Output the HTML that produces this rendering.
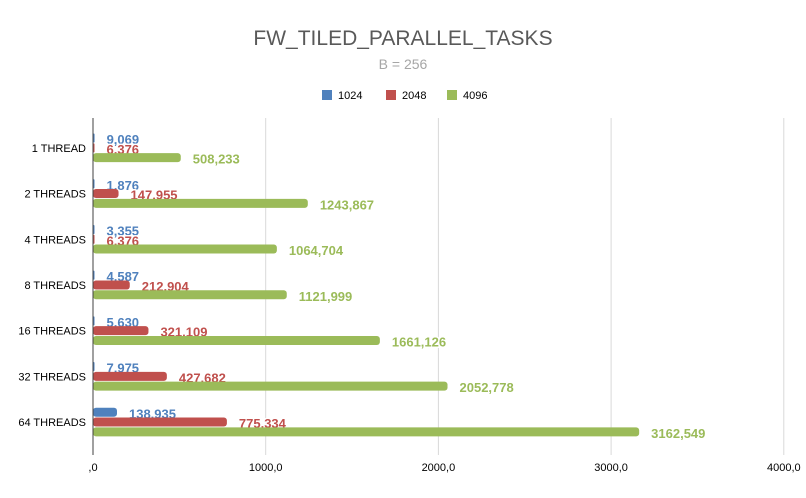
<!DOCTYPE html>
<html><head><meta charset="utf-8"><style>
body{margin:0;background:#fff;font-family:"Liberation Sans",sans-serif}
svg{display:block}
.lbl{font-weight:bold;font-size:13px;paint-order:stroke;stroke:#fff;stroke-width:3px;stroke-linejoin:round}
</style></head><body>
<svg id="c" width="806" height="498">
<text x="403" y="45" text-anchor="middle" font-size="21" fill="#595959">FW_TILED_PARALLEL_TASKS</text>
<text x="403" y="69" text-anchor="middle" font-size="14" fill="#a6a6a6">B = 256</text>
<g id="legend"></g>
<g id="grid"></g>
<g id="bars"></g>
<g id="yax"></g>
</svg>
<script>
const categories=["1 THREAD","2 THREADS","4 THREADS","8 THREADS","16 THREADS","32 THREADS","64 THREADS"];
const seriesNames=["1024","2048","4096"];
const s1024=[9.069,1.876,3.355,4.587,5.630,7.975,138.935];
const s2048=[6.376,147.955,6.376,212.904,321.109,427.682,775.334];
const s4096=[508.233,1243.867,1064.704,1121.999,1661.126,2052.778,3162.549];
const ticks=[0,1000,2000,3000,4000];
const tickLabels=[",0","1000,0","2000,0","3000,0","4000,0"];
const colors=["#4f81bd","#c0504d","#9bbb59"];
const NS="http://www.w3.org/2000/svg";
function mk(t,a,p,txt){const e=document.createElementNS(NS,t);for(const k in a)e.setAttribute(k,a[k]);if(txt!==undefined)e.textContent=txt;p.appendChild(e);return e;}
const x0=93,pxPer=172.7/1000,plotTop=125,step=45.7;
const X=v=>x0+v*pxPer;
const Y=i=>plotTop+step*i+step/2;
const fmt=v=>v.toFixed(3).replace('.',',');
const grid=document.getElementById('grid');
ticks.forEach((t,i)=>{
  if(i>0){const l=mk('line',{x1:X(t),x2:X(t),y1:118,y2:455,stroke:'#d9d9d9','stroke-width':1},grid);
  
  }
  const tx=mk('text',{x:X(t),y:471,'text-anchor':'middle','font-size':11,fill:'#000'},grid,tickLabels[i]);
  
  
});
const yax=document.getElementById('yax');
const ax=mk('line',{x1:x0,x2:x0,y1:118,y2:455,stroke:'#404040','stroke-width':1},yax);


categories.forEach((c,i)=>{
  const t=mk('text',{x:86,y:Y(i)+4,'text-anchor':'end','font-size':11,fill:'#000'},yax,c);
  
  
});
const bars=document.getElementById('bars');
const all=[s1024,s2048,s4096];
categories.forEach((c,i)=>{
  all.forEach((s,k)=>{
    const yc=Y(i)+(k-1)*9.8;
    const w=Math.max(X(s[i])-x0,1.5);
    const r=mk('rect',{x:x0,y:yc-4.5,width:w,height:9,rx:Math.min(3,w/2),fill:colors[k]},bars);
    
    
    const t=mk('text',{x:x0+w+12,y:yc+6,'font-size':13,fill:colors[k],class:'lbl'},bars,fmt(s[i]));
    
    
  });
});
const lg=document.getElementById('legend');
const lx=[322,386,447];
seriesNames.forEach((n,k)=>{
  const r=mk('rect',{x:lx[k],y:90,width:10,height:10,fill:colors[k]},lg);
  
  
  const t=mk('text',{x:lx[k]+16,y:99,'font-size':11,fill:'#000'},lg,n);
  
  
});
</script>
</body></html>
